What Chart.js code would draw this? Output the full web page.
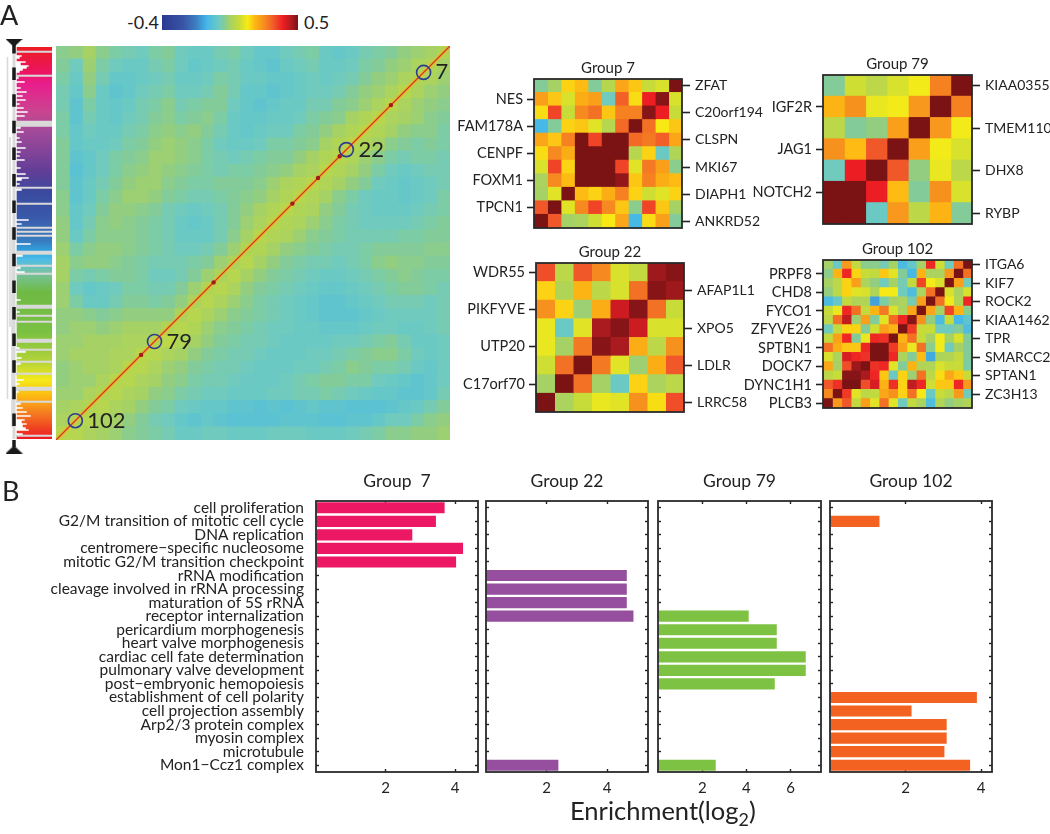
<!DOCTYPE html>
<html>
<head>
<meta charset="utf-8">
<title>Group correlation and enrichment</title>
<script src="https://cdn.jsdelivr.net/npm/chart.js@4"></script>
<style>
  html, body { margin: 0; padding: 0; background: #fff; }
  body { position: relative; width: 1050px; height: 834px; overflow: hidden; font-family: Lato, sans-serif; color: #222; }
  canvas { position: absolute; }
  .txt { position: absolute; white-space: nowrap; line-height: 1; }
  .txt sub { font-size: 70%; line-height: 0; }
</style>
</head>
<body>
<script>
// correlation colour bar
const COLOR_MIN = -0.4;
const COLOR_MAX = 0.5;
const colorStops = [
  [0, "#2b3990"], [0.15, "#3953a4"], [0.25, "#3c7ec2"], [0.33, "#45b8e9"], [0.42, "#6fcbc0"],
  [0.46, "#85cc95"], [0.5, "#a5d165"], [0.57, "#c9dc37"], [0.63, "#f8ec15"], [0.68, "#fdb913"],
  [0.74, "#f7941d"], [0.82, "#f15a29"], [0.89, "#ed1c24"], [0.95, "#b01c20"], [1, "#7b1315"],
];

// Group 7 correlations, rows top to bottom
const group7Matrix = [
  [0.01, 0.05, 0.19, 0.21, 0.01, 0.08, 0.24, 0.20, 0.11, 0.13, 0.50],
  [0.25, 0.20, 0.13, 0.23, 0.25, -0.02, 0.33, 0.18, 0.40, 0.49, 0.13],
  [0.18, 0.36, 0.11, 0.28, 0.31, 0.20, 0.29, 0.29, 0.49, 0.40, 0.11],
  [-0.10, 0.01, 0.19, 0.20, 0.14, 0.08, 0.32, 0.50, 0.31, 0.17, 0.20],
  [0.24, 0.20, 0.29, 0.50, 0.36, 0.50, 0.50, 0.32, 0.30, 0.33, 0.24],
  [0.18, 0.28, 0.23, 0.50, 0.50, 0.50, 0.50, 0.08, 0.19, -0.03, 0.07],
  [0.13, 0.36, 0.19, 0.50, 0.50, 0.50, 0.36, 0.14, 0.30, 0.25, 0.02],
  [0.06, 0.28, 0.21, 0.50, 0.50, 0.50, 0.48, 0.20, 0.29, 0.23, 0.21],
  [0.05, 0.14, 0.50, 0.21, 0.19, 0.23, 0.29, 0.19, 0.12, 0.14, 0.19],
  [0.34, 0.50, 0.14, 0.28, 0.36, 0.28, 0.20, 0.02, 0.36, 0.20, 0.05],
  [0.50, 0.34, 0.05, 0.06, 0.12, 0.17, 0.24, -0.10, 0.18, 0.25, 0.01],
];
const group7Left = ["", "NES", "", "FAM178A", "", "CENPF", "", "FOXM1", "", "TPCN1", ""];
const group7Right = ["ZFAT", "", "C20orf194", "", "CLSPN", "", "MKI67", "", "DIAPH1", "", "ANKRD52"];

const group79Matrix = [
  [0.01, 0.12, 0.09, 0.13, 0.16, 0.29, 0.50],
  [0.22, 0.27, 0.15, 0.16, 0.26, 0.50, 0.29],
  [0.09, 0.01, 0.03, 0.25, 0.50, 0.26, 0.16],
  [0.27, 0.21, 0.34, 0.50, 0.25, 0.16, 0.13],
  [-0.02, 0.40, 0.50, 0.34, 0.03, 0.15, 0.09],
  [0.50, 0.50, 0.40, 0.21, 0.01, 0.27, 0.13],
  [0.50, 0.50, -0.03, 0.26, 0.09, 0.22, 0.01],
];
const group79Left = ["", "IGF2R", "", "JAG1", "", "NOTCH2", ""];
const group79Right = ["KIAA0355", "", "TMEM110", "", "DHX8", "", "RYBP"];

const group22Matrix = [
  [0.35, 0.09, 0.34, 0.28, 0.13, 0.10, 0.47, 0.49],
  [0.19, 0.07, 0.22, 0.09, 0.13, 0.31, 0.49, 0.47],
  [0.27, 0.19, 0.04, 0.23, 0.43, 0.49, 0.31, 0.11],
  [0.15, -0.03, 0.14, 0.46, 0.49, 0.43, 0.13, 0.13],
  [0.15, 0.05, 0.30, 0.49, 0.46, 0.23, 0.09, 0.27],
  [0.12, 0.31, 0.50, 0.30, 0.14, 0.04, 0.23, 0.34],
  [0.05, 0.50, 0.31, 0.05, -0.03, 0.19, 0.06, 0.09],
  [0.50, 0.06, 0.11, 0.15, 0.14, 0.27, 0.18, 0.35],
];
const group22Left = ["WDR55", "", "PIKFYVE", "", "UTP20", "", "C17orf70", ""];
const group22Right = ["", "AFAP1L1", "", "XPO5", "", "LDLR", "", "LRRC58"];

const group102Matrix = [
  [0.05, -0.03, 0.26, 0.10, 0.02, 0.02, -0.01, 0.05, -0.09, -0.04, 0.05, 0.39, 0.12, -0.02, 0.31, 0.50],
  [0.02, 0.22, 0.39, 0.19, 0.11, 0.10, 0.20, 0.14, 0.01, -0.10, 0.22, 0.06, 0.06, 0.26, 0.50, 0.31],
  [0.05, 0.09, 0.19, 0.25, 0.06, 0.03, -0.02, 0.05, -0.01, 0.10, 0.36, 0.16, 0.13, 0.50, 0.25, -0.02],
  [0.03, 0.09, 0.19, 0.14, 0.13, 0.07, 0.17, 0.16, -0.02, -0.08, 0.06, 0.31, 0.50, 0.13, 0.06, 0.13],
  [-0.09, -0.04, 0.10, 0.07, 0.07, -0.13, 0.00, 0.05, 0.06, -0.01, 0.25, 0.50, 0.31, 0.16, 0.07, 0.39],
  [0.11, 0.15, 0.39, 0.31, 0.10, 0.22, 0.30, 0.13, 0.06, 0.24, 0.50, 0.24, 0.05, 0.36, 0.22, 0.02],
  [0.09, 0.31, 0.44, 0.04, 0.25, 0.01, 0.14, 0.32, 0.39, 0.49, 0.27, 0.03, -0.09, 0.11, -0.10, -0.05],
  [-0.02, 0.10, 0.19, 0.19, 0.01, 0.12, 0.25, 0.22, 0.50, 0.37, 0.11, 0.11, -0.02, -0.02, 0.01, -0.08],
  [0.10, 0.25, 0.39, 0.01, 0.15, 0.39, 0.38, 0.50, 0.22, 0.31, 0.11, 0.05, 0.16, 0.05, 0.13, 0.01],
  [0.31, 0.23, 0.20, 0.20, 0.39, 0.50, 0.50, 0.37, 0.25, 0.15, 0.31, 0.02, 0.16, -0.02, 0.05, 0.01],
  [0.13, 0.06, 0.42, 0.39, 0.38, 0.50, 0.50, 0.39, 0.06, 0.01, 0.21, -0.12, 0.06, 0.07, 0.10, 0.01],
  [0.24, 0.05, 0.35, 0.47, 0.50, 0.38, 0.39, 0.14, 0.01, 0.22, 0.07, 0.07, 0.13, 0.11, 0.11, 0.00],
  [0.09, 0.11, 0.49, 0.49, 0.46, 0.39, 0.20, -0.03, 0.19, 0.04, 0.31, 0.09, 0.18, 0.24, 0.20, 0.11],
  [0.34, 0.38, 0.50, 0.50, 0.35, 0.42, 0.22, 0.38, 0.19, 0.44, 0.39, 0.12, 0.20, 0.20, 0.39, 0.26],
  [0.28, 0.50, 0.37, 0.14, 0.09, 0.10, 0.24, 0.27, 0.19, 0.31, 0.17, -0.03, 0.11, 0.09, 0.26, -0.02],
  [0.50, 0.26, 0.34, 0.10, 0.25, 0.14, 0.31, 0.14, -0.02, 0.10, 0.06, -0.08, 0.07, 0.03, 0.05, 0.07],
];
const group102Left = ["", "PRPF8", "", "CHD8", "", "FYCO1", "", "ZFYVE26", "", "SPTBN1", "", "DOCK7", "", "DYNC1H1", "", "PLCB3"];
const group102Right = ["ITGA6", "", "KIF7", "", "ROCK2", "", "KIAA1462", "", "TPR", "", "SMARCC2", "", "SPTAN1", "", "ZC3H13", ""];

// whole matrix, local averages (hundredths of a correlation)
const wholeMatrix = [
  [2, 3, 5, 2, 0, -1, -2, 0, 1, -2, -3, -3, -1, 0, -2, -4, -4, -2, -1, 0, -3, -4, -3, -1, 0, 1, 3, 4, 5, 7],
  [1, -2, 4, 0, -2, -3, -3, -1, 0, -2, -4, -3, -2, -1, -3, -4, -5, -3, -2, -1, -3, -3, -2, 0, 1, 3, 4, 6, 7, 5],
  [0, -3, 3, -1, -4, -4, -3, -2, -1, -3, -3, -2, 0, -1, -3, -3, -4, -4, -3, -2, -3, -2, -1, 1, 3, 4, 6, 7, 6, 4],
  [-1, -4, 2, -3, -5, -4, -2, -1, 0, -2, -2, -1, 1, -1, -4, -4, -5, -4, -3, -2, -2, -1, 1, 3, 4, 6, 8, 6, 4, 3],
  [-1, -5, 0, -3, -4, -3, -1, 0, 2, -1, 0, 1, 1, -2, -4, -5, -4, -3, -3, -1, -1, 1, 2, 4, 6, 8, 6, 4, 3, 2],
  [0, -5, -1, -3, -4, -2, -1, 1, 2, 0, 1, 2, 0, -3, -4, -4, -3, -3, -2, 0, 1, 2, 5, 7, 8, 6, 5, 4, 2, 1],
  [0, -4, -2, -3, -3, -1, 0, 2, 3, 2, 3, 1, -1, -3, -4, -3, -2, -2, 0, 1, 3, 5, 7, 8, 7, 5, 3, 2, 2, 0],
  [1, -4, -3, -3, -2, 0, 1, 3, 4, 3, 2, 0, -2, -3, -3, -2, 0, 0, 1, 2, 5, 7, 8, 7, 5, 2, 1, 0, 1, 0],
  [1, -5, -4, -2, 0, 1, 2, 4, 4, 3, 2, 0, -1, -2, -1, 0, 1, 1, 3, 5, 7, 8, 7, 4, 2, 0, -1, 0, 0, -1],
  [1, -6, -4, -2, 0, 2, 3, 4, 3, 2, 1, 0, -1, 0, 0, 1, 2, 3, 5, 6, 8, 7, 5, 3, 0, -2, -3, -2, -1, -1],
  [1, -5, -3, -1, 1, 3, 4, 4, 2, 1, 0, 0, 1, 1, 1, 2, 4, 6, 7, 8, 7, 5, 3, 1, -2, -3, -4, -3, -2, -1],
  [2, -5, -3, 0, 2, 4, 4, 3, 1, 0, -1, -1, 0, 1, 2, 3, 5, 7, 8, 7, 5, 2, 0, -2, -3, -3, -4, -3, -2, 0],
  [2, -4, -2, 1, 3, 3, 2, 1, -1, -2, -3, -2, -1, 1, 3, 5, 7, 8, 7, 6, 3, 1, -1, -2, -3, -3, -3, -2, -1, 0],
  [3, -4, -1, 2, 3, 2, 1, 0, -1, -3, -4, -3, -1, 1, 4, 6, 8, 7, 6, 4, 2, 0, -1, -2, -2, -2, -2, -1, 0, 1],
  [3, -3, 0, 2, 2, 2, 1, 0, -1, -3, -3, -3, -1, 2, 5, 8, 7, 6, 4, 2, 1, 0, -1, -1, -1, -1, 0, 0, 1, 1],
  [4, 0, 2, 3, 3, 2, 1, 0, -1, -2, -2, -1, 1, 4, 7, 7, 5, 3, 2, 1, 0, -1, -1, 0, 1, 1, 1, 1, 2, 2],
  [5, 2, 3, 3, 2, 1, 0, -1, -1, -1, 0, 1, 4, 6, 8, 5, 3, 1, 0, -1, -1, -2, -1, 0, 2, 3, 2, 2, 1, 1],
  [5, 0, -1, 0, 1, 1, 0, -2, -2, -1, 1, 4, 6, 8, 5, 3, 1, 0, -1, -2, -3, -3, -2, -1, 0, 1, 2, 1, 0, 0],
  [4, -2, -4, -3, -2, 0, 0, -1, -1, 1, 4, 7, 8, 6, 3, 1, 0, -1, -2, -3, -4, -4, -3, -2, -1, 0, 1, 1, 0, -1],
  [4, 0, -3, -3, -1, 1, 1, 0, 1, 3, 6, 8, 6, 4, 2, 0, -1, -2, -3, -4, -5, -5, -4, -3, -2, -1, -1, -1, -2, -1],
  [3, 3, 2, 1, 2, 3, 3, 3, 3, 6, 8, 6, 4, 2, 1, 0, -1, -2, -3, -4, -5, -5, -5, -4, -3, -2, -2, -2, -2, -1],
  [3, 4, 4, 3, 4, 5, 5, 5, 7, 8, 7, 4, 2, 1, 0, -1, -2, -2, -3, -3, -4, -4, -4, -3, -2, -2, -3, -3, -2, -1],
  [4, 4, 5, 5, 5, 6, 6, 7, 9, 7, 5, 3, 1, 0, -1, -1, -2, -3, -3, -3, -3, -2, -2, -1, 0, 1, -1, -3, -3, -2],
  [4, 5, 5, 5, 6, 6, 8, 8, 6, 5, 3, 1, 0, -1, -1, -2, -3, -3, -3, -2, -2, -1, 0, 1, 2, 2, 0, -2, -3, -2],
  [3, 4, 5, 5, 6, 8, 8, 6, 4, 3, 1, 0, -1, -1, -2, -3, -3, -3, -2, -2, -1, 0, 2, 1, 0, 0, -1, -3, -4, -2],
  [3, 4, 4, 6, 8, 8, 6, 5, 3, 2, 0, -1, -1, -2, -3, -3, -3, -2, -1, 0, 1, 1, 0, 0, -2, -3, -4, -5, -4, -2],
  [4, 4, 6, 7, 8, 6, 5, 3, 2, 0, -1, -2, -2, -3, -3, -3, -2, -2, -1, -1, 0, -1, -2, -3, -4, -4, -5, -5, -4, -1],
  [5, 6, 7, 8, 6, 5, 3, 1, 0, -2, -3, -4, -4, -5, -5, -6, -5, -6, -5, -4, -5, -5, -6, -6, -6, -5, -4, -3, -1, 1],
  [6, 7, 8, 6, 5, 3, 1, -1, -2, -4, -5, -4, -5, -6, -6, -6, -6, -5, -5, -5, -6, -6, -5, -5, -4, -2, -2, 0, 2, 3],
  [8, 8, 6, 5, 4, 2, 1, 0, -1, -3, -3, -2, -2, -3, -3, -3, -2, -2, -2, -3, -3, -3, -2, -1, 0, 2, 2, 3, 3, 4],
];

// marked groups along the diagonal, percent of the ordered genes
const markedGroups = ["7", "22", "79", "102"];
const markedPos = [93.3, 73.7, 25, 4.9];
const diagHotspots = [21.6, 40, 66.5, 72, 85, 60];

// colour strip beside the matrix: runs of rows, colour run then gap run in turn
const stripRuns = [2, 1, 11, 1, 22, 3, 30, 1, 7, 1, 11, 1, 1, 1, 1, 1, 7, 2, 5, 1, 3, 1, 15, 2, 3, 1, 2, 1, 8, 2, 3, 1, 5, 1, 5, 1, 6, 2, 5, 1, 16, 1, 1];
const stripColors = [
  [0, "#ed1c24"], [12, "#ec1560"], [18, "#e91e8c"], [32, "#c9458f"], [42, "#a24a9a"], [62, "#623e97"],
  [72, "#3b4a9e"], [84, "#3a58a8"], [97, "#3a7ec2"], [102, "#2ea6e2"], [106, "#50bde6"], [112, "#76c3a6"],
  [122, "#6fba44"], [142, "#7ac143"], [157, "#b4d33a"], [166, "#f4ea1a"], [174, "#fdb913"], [182, "#f58220"], [195, "#ed1c24"],
];
const leafRows = [4, 5, 7, 8, 9, 10, 11, 12, 15, 17, 20, 22, 24, 26, 28, 30, 32, 34, 40, 42, 45, 47, 50, 52, 54, 56, 60, 63, 65, 66, 68, 70, 71, 86, 88, 90, 92, 98, 103, 104, 110, 112, 126, 130, 132, 146, 150, 152, 155, 158, 166, 168, 170, 172, 178, 180, 182, 184, 186, 187, 188, 189, 190, 191, 193];
const leafDepths = [5, 3, 9, 4, 12, 10, 6, 3, 2, 8, 4, 10, 6, 9, 3, 7, 11, 8, 4, 7, 3, 5, 9, 4, 3, 8, 4, 9, 12, 5, 3, 8, 5, 12, 5, 8, 14, 14, 5, 6, 4, 8, 4, 7, 3, 6, 3, 9, 5, 4, 7, 3, 6, 2, 4, 6, 10, 14, 8, 5, 10, 6, 9, 12, 6];

// Dendrogram beside the strip: x, first row, last row
const dendroX = [7.5, 10, 12, 14];
const dendroFrom = [5, 45, 90, 0];
const dendroTo = [176, 140, 190, 196];
const spineX = 14;

// enrichment bars
const terms = [
  "cell proliferation", "G2/M transition of mitotic cell cycle", "DNA replication",
  "centromere\u2212specific nucleosome", "mitotic G2/M transition checkpoint", "rRNA modification",
  "cleavage involved in rRNA processing", "maturation of 5S rRNA", "receptor internalization",
  "pericardium morphogenesis", "heart valve morphogenesis", "cardiac cell fate determination",
  "pulmonary valve development", "post\u2212embryonic hemopoiesis", "establishment of cell polarity",
  "cell projection assembly", "Arp2/3 protein complex", "myosin complex", "microtubule", "Mon1\u2212Ccz1 complex",
];
const enrich7 = [3.7, 3.45, 2.77, 4.23, 4.03, null, null, null, null, null, null, null, null, null, null, null, null, null, null, null];
const enrich22 = [null, null, null, null, null, 4.65, 4.65, 4.65, 4.87, null, null, null, null, null, null, null, null, null, null, 2.39];
const enrich79 = [null, null, null, null, null, null, null, null, 4.1, 5.37, 5.37, 6.68, 6.68, 5.28, null, null, null, null, null, 2.61];
const enrich102 = [null, 1.31, null, null, null, null, null, null, null, null, null, null, null, null, 3.89, 2.16, 3.09, 3.09, 3.03, 3.71];

const FONT = "Lato, sans-serif";
const INK = "#222";

function hexToRgb(hex) {
  return [1, 3, 5].map((i) => parseInt(hex.slice(i, i + 2), 16));
}

function mixStops(stops, t) {
  let i = 0;
  while (i < stops.length - 2 && t > stops[i + 1][0]) i++;
  const [t0, c0] = stops[i];
  const [t1, c1] = stops[i + 1];
  const f = Math.min(1, Math.max(0, (t - t0) / (t1 - t0)));
  const a = hexToRgb(c0);
  const b = hexToRgb(c1);
  return "rgb(" + a.map((v, k) => Math.round(v + (b[k] - v) * f)).join(",") + ")";
}

function corrColor(v) {
  return mixStops(colorStops, (v - COLOR_MIN) / (COLOR_MAX - COLOR_MIN));
}

function addCanvas(left, top, width, height) {
  const c = document.createElement("canvas");
  c.width = width;
  c.height = height;
  c.style.left = left + "px";
  c.style.top = top + "px";
  document.body.appendChild(c);
  return c;
}

function addText(html, left, top, size) {
  const d = document.createElement("div");
  d.className = "txt";
  d.innerHTML = html;
  d.style.left = left + "px";
  d.style.top = top + "px";
  d.style.fontSize = size + "px";
  document.body.appendChild(d);
}

// flat triangle used as a point style at the ends of the spine
function flatTriangle(pointsDown) {
  const c = document.createElement("canvas");
  c.width = 17;
  c.height = 8;
  const g = c.getContext("2d");
  g.fillStyle = "#1a1a1a";
  g.beginPath();
  if (pointsDown) {
    g.moveTo(0, 0);
    g.lineTo(17, 0);
    g.lineTo(8.5, 8);
  } else {
    g.moveTo(0, 8);
    g.lineTo(17, 8);
    g.lineTo(8.5, 0);
  }
  g.closePath();
  g.fill();
  return c;
}

// fixed axis sizes so the plot areas land where the panels are
function fixedWidth(w) {
  return (scale) => { scale.width = w; scale.paddingTop = 0; scale.paddingBottom = 0; };
}
function fixedHeight(h) {
  return (scale) => { scale.height = h; scale.paddingLeft = 0; scale.paddingRight = 0; };
}

// box around the plot area
const panelFrame = {
  id: "panelFrame",
  afterDraw(chart) {
    const { ctx, chartArea: a } = chart;
    ctx.save();
    ctx.strokeStyle = "#2a2a2a";
    ctx.lineWidth = 1.8;
    ctx.strokeRect(a.left, a.top, a.right - a.left, a.bottom - a.top);
    ctx.restore();
  },
};

// one dataset per column, stacked along each row
function matrixDatasets(matrix, scale) {
  return matrix[0].map((_, col) => ({
    data: matrix.map(() => 1),
    backgroundColor: matrix.map((row) => corrColor(row[col] * scale)),
    borderWidth: 0,
    barPercentage: 1,
    categoryPercentage: 1,
    inflateAmount: 0.5,
    stack: "rows",
  }));
}

function groupHeatmap(title, matrix, leftLabels, rightLabels, x0, y0, x1, y1) {
  const SIDE = 92;
  const canvas = addCanvas(x0 - SIDE, y0 - 20, SIDE + (x1 - x0) + SIDE, 20 + (y1 - y0) + 12);
  const tickStyle = (labels) => ({
    drawOnChartArea: false,
    offset: false,
    tickWidth: 1.6,
    tickColor: (c) => (labels[c.index] ? INK : "transparent"),
  });
  new Chart(canvas, {
    type: "bar",
    data: { labels: leftLabels, datasets: matrixDatasets(matrix, 1) },
    plugins: [panelFrame],
    options: {
      indexAxis: "y",
      responsive: false,
      animation: false,
      layout: { padding: { bottom: 12 } },
      plugins: {
        legend: { display: false },
        tooltip: { enabled: false },
        title: { display: true, text: title, color: INK, font: { family: FONT, size: 15, weight: "normal", lineHeight: 1.2 }, padding: { top: 0, bottom: 2 } },
      },
      scales: {
        x: { display: false, stacked: true, min: 0, max: matrix.length },
        y: {
          stacked: true,
          afterFit: fixedWidth(SIDE),
          border: { display: false },
          grid: { ...tickStyle(leftLabels), tickLength: 7 },
          ticks: { autoSkip: false, color: INK, padding: 4, font: { family: FONT, size: 14.5 } },
        },
        yRight: {
          type: "category",
          position: "right",
          labels: rightLabels,
          offset: true,
          afterFit: fixedWidth(SIDE),
          border: { display: false },
          grid: { ...tickStyle(rightLabels), tickLength: 8 },
          ticks: { autoSkip: false, color: INK, padding: 5, font: { family: FONT, size: 14 } },
        },
      },
    },
  });
}

function enrichPanel(title, values, color, xMax, x0, x1, showTerms) {
  const TOP = 501;
  const BOTTOM = 772;
  const left = showTerms ? 20 : x0 - 2;
  // right margin mirrors the left one so the title centres over the panel
  const rightGap = x0 - left;
  const canvas = addCanvas(left, TOP - 30, rightGap * 2 + (x1 - x0), BOTTOM - TOP + 30 + 30);
  const inner = { drawOnChartArea: false, tickWidth: 1.4, tickColor: INK, tickLength: -3 };
  new Chart(canvas, {
    type: "bar",
    data: {
      labels: terms,
      datasets: [{ data: values, backgroundColor: color, barPercentage: 0.82, categoryPercentage: 1 }],
    },
    plugins: [panelFrame],
    options: {
      indexAxis: "y",
      responsive: false,
      animation: false,
      plugins: {
        legend: { display: false },
        tooltip: { enabled: false },
        title: { display: true, text: title, color: INK, font: { family: FONT, size: 17.5, weight: "normal", lineHeight: 1.2 }, padding: { top: 0, bottom: 9 } },
      },
      scales: {
        x: {
          min: 0,
          max: xMax,
          afterFit: fixedHeight(30),
          border: { display: false },
          grid: { ...inner, tickColor: (c) => (c.tick.value === 0 ? "transparent" : INK) },
          ticks: { stepSize: 2, includeBounds: false, maxRotation: 0, color: INK, padding: 10, font: { family: FONT, size: 15 }, callback: (v) => (v === 0 ? "" : v) },
        },
        xTop: {
          type: "linear",
          position: "top",
          min: 0,
          max: xMax,
          afterFit: fixedHeight(0),
          border: { display: false },
          grid: { ...inner, tickColor: (c) => (c.tick.value === 0 ? "transparent" : INK) },
          ticks: { display: false, stepSize: 2, includeBounds: false },
        },
        y: {
          afterFit: fixedWidth(x0 - left),
          border: { display: false },
          grid: { ...inner, offset: false },
          ticks: { display: showTerms, autoSkip: false, color: INK, padding: 15, font: { family: FONT, size: 15.5 } },
        },
        yRight: {
          type: "category",
          position: "right",
          labels: terms,
          offset: true,
          afterFit: fixedWidth(rightGap),
          border: { display: false },
          grid: { ...inner, offset: false },
          ticks: { display: false, autoSkip: false },
        },
      },
    },
  });
}

// marked-group labels written next to their circles
const groupLabels = {
  id: "groupLabels",
  afterDatasetsDraw(chart) {
    const { ctx, scales } = chart;
    ctx.save();
    ctx.font = "22px " + FONT;
    ctx.fillStyle = INK;
    ctx.textBaseline = "middle";
    markedGroups.forEach((name, i) => {
      ctx.fillText(name, scales.x.getPixelForValue(markedPos[i]) + 12, scales.y.getPixelForValue(markedPos[i]));
    });
    ctx.restore();
  },
};

// whole matrix
new Chart(addCanvas(56, 46, 394, 394), {
  type: "bar",
  data: {
    labels: wholeMatrix.map((_, i) => "r" + i),
    datasets: matrixDatasets(wholeMatrix, 0.01),
  },
  options: {
    indexAxis: "y",
    responsive: false,
    animation: false,
    plugins: { legend: { display: false }, tooltip: { enabled: false } },
    scales: {
      x: { display: false, stacked: true, min: 0, max: wholeMatrix.length },
      y: { display: false, stacked: true },
    },
  },
});

// diagonal and marked groups on top of it
new Chart(addCanvas(56, 46, 394, 394), {
  type: "scatter",
  data: {
    datasets: [
      {
        data: markedPos.map((p) => ({ x: p, y: p })),
        pointStyle: "circle",
        pointRadius: 7,
        pointBorderWidth: 1.6,
        pointBorderColor: "#2e3b93",
        pointBackgroundColor: "transparent",
      },
      {
        data: diagHotspots.map((p) => ({ x: p, y: p })),
        pointRadius: 2.2,
        pointBorderWidth: 0,
        pointBackgroundColor: "#a01a1a",
      },
      {
        showLine: true,
        data: [{ x: 0, y: 0 }, { x: 100, y: 100 }],
        borderColor: "#d9381e",
        borderWidth: 1.3,
        pointRadius: 0,
      },
      {
        showLine: true,
        data: [{ x: 0, y: 0 }, { x: 100, y: 100 }],
        borderColor: "rgba(250,180,30,0.45)",
        borderWidth: 5,
        pointRadius: 0,
      },
    ],
  },
  plugins: [groupLabels],
  options: {
    responsive: false,
    animation: false,
    layout: { autoPadding: false },
    plugins: { legend: { display: false }, tooltip: { enabled: false } },
    scales: {
      x: { display: false, min: 0, max: 100 },
      y: { display: false, min: 0, max: 100 },
    },
  },
});

// colour bar
new Chart(addCanvas(162, 15, 136, 15), {
  type: "bar",
  data: {
    labels: ["r"],
    datasets: [{
      data: [[COLOR_MIN, COLOR_MAX]],
      barPercentage: 1,
      categoryPercentage: 1,
      backgroundColor: (c) => {
        const a = c.chart.chartArea;
        if (!a) return "transparent";
        const g = c.chart.ctx.createLinearGradient(a.left, 0, a.right, 0);
        colorStops.forEach(([t, col]) => g.addColorStop(t, col));
        return g;
      },
    }],
  },
  options: {
    indexAxis: "y",
    responsive: false,
    animation: false,
    plugins: { legend: { display: false }, tooltip: { enabled: false } },
    scales: {
      x: { display: false, min: COLOR_MIN, max: COLOR_MAX },
      y: { display: false },
    },
  },
});

// colour strip, built row by row from the runs
const stripFloat = [];
const stripFill = [];
stripRuns.forEach((len, run) => {
  for (let i = 0; i < len; i++) {
    const row = stripFloat.length;
    const leaf = leafRows.indexOf(row);
    if (run % 2) {
      stripFloat.push([16, 52]);
      stripFill.push("#d9d9d9");
    } else {
      stripFloat.push([17 + (leaf >= 0 ? leafDepths[leaf] : 0), 52]);
      stripFill.push(mixStops(stripColors, row));
    }
  }
});

new Chart(addCanvas(0, 30, 62, 430), {
  type: "bar",
  data: {
    labels: stripFloat.map((_, i) => "r" + i),
    datasets: [{
      data: stripFloat,
      backgroundColor: stripFill,
      barPercentage: 1,
      categoryPercentage: 1,
      inflateAmount: 0.3,
    }],
  },
  options: {
    indexAxis: "y",
    responsive: false,
    animation: false,
    layout: { padding: { top: 17, bottom: 21, right: 10 } },
    plugins: { legend: { display: false }, tooltip: { enabled: false } },
    scales: {
      x: { display: false, min: 0, max: 52 },
      y: { display: false },
    },
  },
});

// dendrogram spine, end triangles and branches; rows run a little past the strip for the triangles
new Chart(addCanvas(0, 30, 62, 430), {
  type: "scatter",
  data: {
    datasets: [
      {
        data: [{ x: spineX, y: -2 }],
        pointStyle: flatTriangle(true),
        pointBackgroundColor: "#1a1a1a",
      },
      {
        data: [{ x: spineX, y: 201.25 }],
        pointStyle: flatTriangle(false),
        pointBackgroundColor: "#1a1a1a",
      },
      {
        showLine: true,
        data: [{ x: spineX, y: -3 }, { x: spineX, y: 200 }],
        borderColor: "#1a1a1a",
        borderWidth: 3.5,
        borderDash: [12.5, 14.1],
        pointRadius: 0,
      },
      ...dendroX.map((x, i) => ({
        showLine: true,
        data: [{ x: x, y: dendroFrom[i] }, { x: x, y: dendroTo[i] }],
        borderColor: "#d9d9d9",
        borderWidth: i === 3 ? 3 : 1.6,
        pointRadius: 0,
      })),
    ],
  },
  options: {
    responsive: false,
    animation: false,
    layout: { padding: { top: 1, bottom: 5, right: 10 }, autoPadding: false },
    plugins: { legend: { display: false }, tooltip: { enabled: false } },
    scales: {
      x: { display: false, min: 0, max: 52 },
      y: { display: false, reverse: true, min: -8, max: stripFloat.length + 8 },
    },
  },
});

groupHeatmap("Group 7", group7Matrix, group7Left, group7Right, 534, 79, 682, 228);
groupHeatmap("Group 79", group79Matrix, group79Left, group79Right, 823, 75, 972, 224);
groupHeatmap("Group 22", group22Matrix, group22Left, group22Right, 536, 263, 684, 412);
groupHeatmap("Group 102", group102Matrix, group102Left, group102Right, 823, 260, 972, 408);

enrichPanel("Group  7", enrich7, "#ed1864", 4.66, 316, 478, true);
enrichPanel("Group 22", enrich22, "#954f9e", 5.35, 486, 648, false);
enrichPanel("Group 79", enrich79, "#7dc242", 7.37, 658, 821, false);
enrichPanel("Group 102", enrich102, "#f36221", 4.29, 830, 992, false);

addText("A", 0, 1, 27);
addText("B", 2, 477, 27);
addText("-0.4", 127, 13, 18);
addText("0.5", 304, 13, 18);
addText("Enrichment(log<sub>2</sub>)", 570, 798, 25.5);
</script>
</body>
</html>
